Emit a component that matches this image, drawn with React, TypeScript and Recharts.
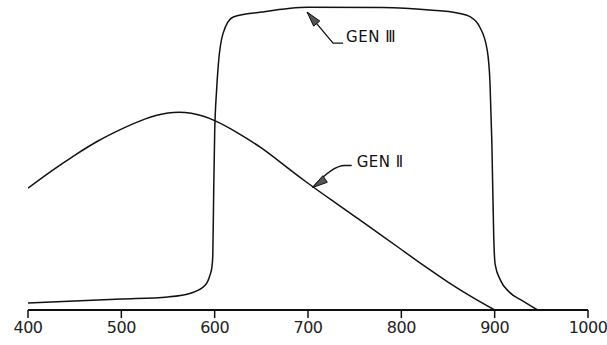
import { LineChart, Line, XAxis, YAxis, ReferenceDot } from "recharts";

// wavelength (nm) and relative response
const gen2Nm = [400, 425, 450, 475, 500, 525, 550, 575, 600, 625, 650, 675, 700, 725, 750, 775, 800, 825, 850, 875, 900];
const gen2Val = [40.1, 45.7, 50.9, 55.6, 59.5, 62.8, 64.8, 64.7, 62.3, 58.2, 53.3, 47.5, 41.7, 36.2, 30.8, 25.4, 19.9, 14.4, 9.2, 4.4, 0];

const gen3Nm = [400, 450, 500, 550, 575, 590, 595, 597, 598, 599, 600, 602, 604, 609, 620, 650, 700, 780, 830, 860, 874, 884, 892, 895, 897, 899, 900.5, 906, 916, 930, 946];
const gen3Val = [2.3, 3.0, 3.6, 4.3, 5.6, 8.2, 11.5, 14, 18, 40, 58, 72, 81, 91, 96.4, 98, 99.6, 99.5, 98.7, 97.7, 96.4, 93.1, 85.5, 74.7, 55, 24, 15, 9.9, 5.8, 3.0, 0];

const xTicks = [400, 500, 600, 700, 800, 900, 1000];

const gen2Data = gen2Nm.map((nm, i) => ({ nm, v: gen2Val[i] }));
const gen3Data = gen3Nm.map((nm, i) => ({ nm, v: gen3Val[i] }));

const INK = "#111";

function arrowHead(dx: number, dy: number, len: number, half: number) {
  const m = Math.hypot(dx, dy);
  const ux = dx / m;
  const uy = dy / m;
  const bx = ux * len;
  const by = uy * len;
  return `0,0 ${bx - uy * half},${by + ux * half} ${bx + uy * half},${by - ux * half}`;
}

function Gen3Callout(props: any) {
  const { cx, cy } = props;
  return (
    <g transform={`translate(${cx},${cy})`}>
      <polyline points="0,0 26,31 36,31" fill="none" stroke={INK} strokeWidth={1.3} />
      <polygon points={arrowHead(26, 31, 15, 4)} fill="#555" stroke={INK} strokeWidth={1} />
      <text x={39} y={30} fontSize={15} fill={INK} fontFamily="DejaVu Sans" letterSpacing={0.5}>
        GEN Ⅲ
      </text>
    </g>
  );
}

function Gen2Callout(props: any) {
  const { cx, cy } = props;
  return (
    <g transform={`translate(${cx},${cy})`}>
      <path d="M0,0 Q20,-22 32,-22 L39,-22" fill="none" stroke={INK} strokeWidth={1.3} />
      <polygon points={arrowHead(19, -13, 15, 4)} fill="#555" stroke={INK} strokeWidth={1} />
      <text x={44} y={-20} fontSize={15} fill={INK} fontFamily="DejaVu Sans" letterSpacing={0.5}>
        GEN Ⅱ
      </text>
    </g>
  );
}

export default function App() {
  return (
    <div style={{ position: "absolute", left: 0, top: 0, width: 607, height: 345, background: "#fff" }}>
      <LineChart width={607} height={345} margin={{ top: 6, right: 19, left: 28, bottom: 0 }}>
        <XAxis
          dataKey="nm"
          type="number"
          domain={[400, 1000]}
          ticks={xTicks}
          allowDataOverflow
          height={35}
          axisLine={{ stroke: INK, strokeWidth: 2 }}
          tickLine={{ stroke: INK, strokeWidth: 1.5 }}
          tickSize={8}
          tickMargin={4}
          tick={{ fontSize: 16, fill: "#222", fontFamily: "DejaVu Sans", letterSpacing: -0.5 }}
        />
        <YAxis
          type="number"
          domain={[0, 100]}
          width={0}
          tick={false}
          tickLine={false}
          axisLine={{ stroke: INK, strokeWidth: 2 }}
        />
        <Line
          data={gen2Data}
          dataKey="v"
          type="natural"
          stroke={INK}
          strokeWidth={1.5}
          dot={false}
          isAnimationActive={false}
        />
        <Line
          data={gen3Data}
          dataKey="v"
          type="monotone"
          stroke={INK}
          strokeWidth={1.5}
          dot={false}
          isAnimationActive={false}
        />
        <ReferenceDot x={699} y={98} ifOverflow="visible" shape={Gen3Callout} />
        <ReferenceDot x={705} y={40.3} ifOverflow="visible" shape={Gen2Callout} />
      </LineChart>
    </div>
  );
}
